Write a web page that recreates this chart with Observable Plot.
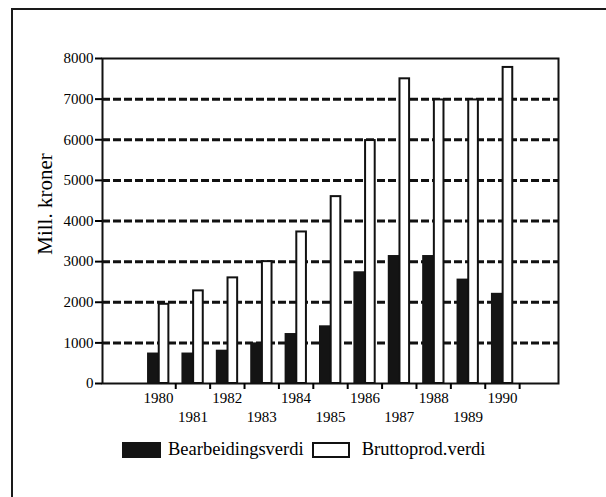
<!DOCTYPE html>
<html>
<head>
<meta charset="utf-8">
<script src="https://cdn.jsdelivr.net/npm/d3@7"></script>
<script src="https://cdn.jsdelivr.net/npm/@observablehq/plot@0.6"></script>
<style>
  body { margin: 0; background: #fff; }
  #wrap { position: relative; width: 606px; height: 497px; overflow: hidden;
          font-family: "Liberation Serif", "Times New Roman", serif; color: #000; }
  #border { position: absolute; left: 11px; top: 8px; right: -10px; bottom: -10px;
            border-top: 2px solid #1a1a1a; border-left: 2px solid #1a1a1a; pointer-events: none; }
  #chart { position: absolute; left: 0; top: 0; width: 606px; }
  #chart svg { display: block; }
  #legend { display: flex; align-items: center; height: 30px; margin-top: 5px;
            padding-left: 122px; font-size: 18.5px; line-height: 1.15; }
  #legend .sw { display: inline-block; width: 39px; height: 16px; box-sizing: border-box; }
  #legend .sw.dark { background: #141414; }
  #legend .sw.light { background: #fff; border: 2px solid #111; width: 38px; }
</style>
</head>
<body>
<div id="wrap">
  <div id="border"></div>
  <div id="chart"></div>
</div>
<script>
// ---- data ----
const years = [1980, 1981, 1982, 1983, 1984, 1985, 1986, 1987, 1988, 1989, 1990];
const bearbeidingsverdi = [750, 750, 820, 1000, 1230, 1420, 2750, 3150, 3150, 2570, 2220];
const bruttoprodverdi = [1950, 2280, 2600, 3000, 3730, 4600, 5980, 7500, 6980, 6980, 7780];
const seriesNames = ["Bearbeidingsverdi", "Bruttoprod.verdi"];
const yTicks = [0, 1000, 2000, 3000, 4000, 5000, 6000, 7000, 8000];
const gridValues = [1000, 2000, 3000, 4000, 5000, 6000, 7000];
const yLabel = "Mill. kroner";

// derived tables
const darkRows = years.map((year, i) => ({year, value: bearbeidingsverdi[i], series: seriesNames[0]}));
const lightRows = years.map((year, i) => ({year, value: bruttoprodverdi[i], series: seriesNames[1]}));
const boundaries = years.map(y => y + 0.5);
const evenYears = years.filter(y => y % 2 === 0);
const oddYears = years.filter(y => y % 2 === 1);

const chart = Plot.plot({
  width: 606,
  height: 430,
  marginLeft: 102,
  marginRight: 48,
  marginTop: 58,
  marginBottom: 47,
  x: {type: "linear", domain: [years[0] - 1.63, years[years.length - 1] + 1.63]},
  y: {domain: [0, 8000]},
  style: {fontFamily: "'Liberation Serif', 'Times New Roman', serif", fontSize: "15px", color: "#000", background: "transparent", overflow: "visible"},
  marks: [
    Plot.ruleY(gridValues, {stroke: "#111", strokeWidth: 3, strokeDasharray: "8,3"}),
    Plot.rectY(darkRows, {x1: d => d.year - 0.32, x2: d => d.year + 0.02, y1: 0, y2: "value", fill: "#141414"}),
    Plot.rectY(lightRows, {x1: d => d.year + 0.02, x2: d => d.year + 0.3, y1: 0, y2: "value", fill: "#fff", stroke: "#111", strokeWidth: 2}),
    Plot.frame({stroke: "#111", strokeWidth: 2}),
    Plot.axisY({ticks: yTicks, tickSize: 7, tickPadding: 2, tickFormat: d => String(d), label: null, strokeWidth: 2, fontSize: 15}),
    Plot.axisX({ticks: boundaries, tickSize: 6, tickFormat: () => "", label: null, strokeWidth: 2}),
    Plot.axisX({ticks: evenYears, tickSize: 0, tickPadding: 9, tickFormat: d => String(d), label: null, fontSize: 15}),
    Plot.axisX({ticks: oddYears, tickSize: 0, tickPadding: 28, tickFormat: d => String(d), label: null, fontSize: 15}),
    Plot.text([yLabel], {frameAnchor: "left", textAnchor: "middle", lineAnchor: "middle", rotate: -90, dx: -57, dy: -17, fontSize: 21, fill: "#000"})
  ]
});

const container = document.getElementById("chart");
container.appendChild(chart);

// legend below the svg
const legend = document.createElement("div");
legend.id = "legend";
const classes = ["dark", "light"];
seriesNames.forEach((name, i) => {
  const sw = document.createElement("span");
  sw.className = "sw " + classes[i];
  if (i === 1) sw.style.marginLeft = "8px";
  const t = document.createElement("span");
  t.textContent = name;
  t.style.marginLeft = i === 0 ? "7px" : "12px";
  legend.appendChild(sw);
  legend.appendChild(t);
});
container.appendChild(legend);
</script>
</body>
</html>
